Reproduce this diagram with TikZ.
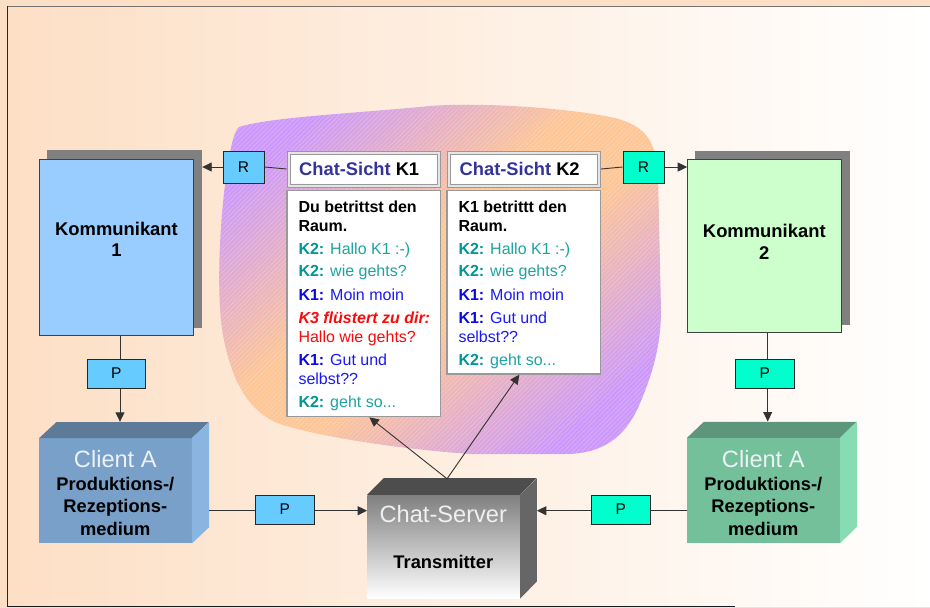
\documentclass[tikz,border=0pt]{standalone}
\usepackage{fontspec}
\setmainfont{Liberation Sans}
\usetikzlibrary{arrows.meta,patterns.meta,calc}
\definecolor{peach}{RGB}{253,223,197}
\definecolor{blobpurple}{RGB}{204,152,250}
\definecolor{bloborange}{RGB}{253,198,150}
\definecolor{kblue}{RGB}{153,204,255}
\definecolor{kgreen}{RGB}{204,255,204}
\definecolor{rblue}{RGB}{102,204,255}
\definecolor{rgreen}{RGB}{0,255,204}
\definecolor{hdblue}{RGB}{51,51,153}
\definecolor{tealA}{RGB}{0,150,150}
\definecolor{tealB}{RGB}{30,163,163}
\definecolor{blueA}{RGB}{10,10,225}
\definecolor{blueB}{RGB}{25,25,250}
\definecolor{redA}{RGB}{250,10,10}
\definecolor{caFront}{RGB}{120,160,200}
\definecolor{caTop}{RGB}{93,122,153}
\definecolor{caSide}{RGB}{138,181,224}
\definecolor{cbFront}{RGB}{115,192,155}
\definecolor{cbTop}{RGB}{93,150,122}
\definecolor{cbSide}{RGB}{135,220,180}
\definecolor{svTop}{RGB}{77,77,77}
\definecolor{svSide}{RGB}{102,102,102}
\definecolor{lightTitle}{RGB}{236,241,246}
\pgfdeclarehorizontalshading{blobshade}{100bp}{color(0bp)=(blobpurple); color(24bp)=(blobpurple); color(45bp)=(bloborange); color(55bp)=(bloborange); color(76bp)=(blobpurple); color(100bp)=(blobpurple)}
\tikzset{
  conn/.style={draw=black!80, line width=0.9pt},
  arr/.style={draw=black!80, line width=0.9pt, -{Triangle[length=9.5pt,width=9pt]}},
  kbox/.style={rectangle, draw=black!75, line width=1pt, inner sep=0pt},
  shadowbox/.style={rectangle, fill=black!50, inner sep=0pt},
  tagbox/.style={rectangle, draw=black!85, line width=1pt, inner sep=0pt, font=\fontsize{15.5}{18}\selectfont},
  hdbox/.style={rectangle, draw=black!40, fill=black!10, line width=1pt, inner sep=0pt},
  hdinner/.style={rectangle, draw=black!40, fill=white, line width=1pt, inner sep=0pt},
  chatbox/.style={rectangle, draw=black!40, fill=white, line width=1.2pt, inner sep=0pt},
  chatline/.style={anchor=base west, inner sep=0pt, font=\fontsize{16}{19}\selectfont},
  hdtext/.style={anchor=base west, inner sep=0pt, font=\bfseries\fontsize{18.3}{21}\selectfont},
  bigtext/.style={anchor=base, inner sep=0pt, font=\bfseries\fontsize{18.4}{21}\selectfont},
  cubetitle/.style={anchor=base, inner sep=0pt, text=lightTitle, font=\fontsize{23.6}{28}\selectfont},
  cubetext/.style={anchor=base, inner sep=0pt, font=\bfseries\fontsize{18.3}{22}\selectfont},
  face/.style={rectangle, inner sep=0pt},
}
\begin{document}
\begin{tikzpicture}[x=1pt,y=-1pt]
\useasboundingbox (0,0) rectangle (930,608);
% background and frame
\fill[peach] (0,0) rectangle (930,608);
\shade[left color=peach, right color=white] (7,6) rectangle (930,606);
\draw[black!55, line width=1.3pt] (7,6.5) -- (930,6.5);
\draw[black!85, line width=1.2pt] (7.5,6) -- (7.5,607);
\draw[black!90, line width=1.2pt] (7,606.5) -- (735,606.5);
% blob
\def\blobpath{(239,127) .. controls (270,117) and (360,113) .. (430,106)
  .. controls (480,102) and (570,108) .. (615,118)
  .. controls (645,126) and (656,140) .. (658,175)
  -- (661,310)
  .. controls (661,350) and (650,380) .. (638,408)
  .. controls (625,435) and (605,454) .. (565,454)
  -- (470,454)
  .. controls (400,449) and (320,437) .. (280,424)
  .. controls (248,412) and (232,380) .. (224,340)
  .. controls (215,300) and (220,210) .. (228,165)
  .. controls (231,145) and (234,132) .. (239,127) -- cycle}
\shade[shading=blobshade, shading angle=-50] \blobpath;
\fill[pattern={Lines[angle=45,distance=3.2pt,line width=0.6pt]}, pattern color=white, opacity=0.25] \blobpath;

% Kommunikant 1
\node[shadowbox, minimum width=155pt, minimum height=178pt] (k1s) at (124.5,239) {};
\node[kbox, fill=kblue, minimum width=154pt, minimum height=176.5pt] (k1) at (116.5,247.25) {};
\node[bigtext] (k1ta) at (116.5,235) {Kommunikant};
\node[bigtext] (k1tb) at (116.5,256) {1};
% Kommunikant 2
\node[shadowbox, minimum width=155pt, minimum height=173.7pt] (k2s) at (772.5,237.85) {};
\node[kbox, fill=kgreen, minimum width=154pt, minimum height=173pt] (k2) at (764.7,245.5) {};
\node[bigtext] (k2ta) at (764.3,237.3) {Kommunikant};
\node[bigtext] (k2tb) at (764.3,259) {2};

% R boxes
\node[tagbox, fill=rblue, minimum width=41pt, minimum height=32pt] (r1) at (243.5,167) {R};
\node[tagbox, fill=rgreen, minimum width=41pt, minimum height=32pt] (r2) at (643.5,167) {R};

% headers
\node[hdbox, minimum width=153.7pt, minimum height=36pt] (hk1) at (363.85,169) {};
\node[hdinner, minimum width=147.7pt, minimum height=30pt] (hk1i) at (hk1.center) {};
\node[hdtext] (hk1t) at (299,175.3) {\textcolor{hdblue}{Chat-Sicht} K1};
\node[hdbox, minimum width=153.7pt, minimum height=36pt] (hk2) at (523.85,169) {};
\node[hdinner, minimum width=147.7pt, minimum height=30pt] (hk2i) at (hk2.center) {};
\node[hdtext] (hk2t) at (459.5,175.3) {\textcolor{hdblue}{Chat-Sicht} K2};

% chat boxes
\node[chatbox, minimum width=153.7pt, minimum height=226pt] (c1) at (363.85,303.7) {};
\node[chatbox, minimum width=153.7pt, minimum height=183.3pt] (c2) at (523.85,282.35) {};

\node[chatline] (a1) at (298.3,212.7) {\textbf{Du betrittst den}};
\node[chatline] (a2) at (298.3,231) {\textbf{Raum.}};
\node[chatline] (a3) at (298.3,254) {\textcolor{tealA}{\textbf{K2:}} \textcolor{tealB}{Hallo K1 :-)}};
\node[chatline] (a4) at (298.3,276.7) {\textcolor{tealA}{\textbf{K2:}} \textcolor{tealB}{wie gehts?}};
\node[chatline] (a5) at (298.3,300) {\textcolor{blueA}{\textbf{K1:}} \textcolor{blueB}{Moin moin}};
\node[chatline] (a6) at (298.3,323.3) {\textcolor{redA}{\textbf{\textit{K3 flüstert zu dir:}}}};
\node[chatline] (a7) at (298.3,342.3) {\textcolor{redA}{Hallo wie gehts?}};
\node[chatline] (a8) at (298.3,365) {\textcolor{blueA}{\textbf{K1:}} \textcolor{blueB}{Gut und}};
\node[chatline] (a9) at (298.3,384) {\textcolor{blueB}{selbst??}};
\node[chatline] (a10) at (298.3,407.7) {\textcolor{tealA}{\textbf{K2:}} \textcolor{tealB}{geht so...}};

\node[chatline] (b1) at (458.3,212.7) {\textbf{K1 betrittt den}};
\node[chatline] (b2) at (458.3,231) {\textbf{Raum.}};
\node[chatline] (b3) at (458.3,254) {\textcolor{tealA}{\textbf{K2:}} \textcolor{tealB}{Hallo K1 :-)}};
\node[chatline] (b4) at (458.3,276.7) {\textcolor{tealA}{\textbf{K2:}} \textcolor{tealB}{wie gehts?}};
\node[chatline] (b5) at (458.3,300) {\textcolor{blueA}{\textbf{K1:}} \textcolor{blueB}{Moin moin}};
\node[chatline] (b6) at (458.3,323.3) {\textcolor{blueA}{\textbf{K1:}} \textcolor{blueB}{Gut und}};
\node[chatline] (b7) at (458.3,342.3) {\textcolor{blueB}{selbst??}};
\node[chatline] (b8) at (458.3,365) {\textcolor{tealA}{\textbf{K2:}} \textcolor{tealB}{geht so...}};

% P boxes
\node[tagbox, fill=rblue, minimum width=58.7pt, minimum height=29pt] (pv1) at (116.35,373.5) {P};
\node[tagbox, fill=rgreen, minimum width=58.3pt, minimum height=29pt] (pv2) at (764.85,373.5) {P};
\node[tagbox, fill=rblue, minimum width=58.3pt, minimum height=29pt] (ph1) at (284.85,509.5) {P};
\node[tagbox, fill=rgreen, minimum width=58.3pt, minimum height=29pt] (ph2) at (620.85,509.5) {P};

% Client A (left cube)
\node[face, fill=caFront, minimum width=152.4pt, minimum height=105pt] (ca) at (115.5,490.8) {};
\fill[caTop] (ca.north west) -- ++(17.3,-16) -- ++(152.4,0) -- (ca.north east) -- cycle;
\fill[caSide] (ca.north east) -- ++(17.3,-16) -- ++(0,105) -- (ca.south east) -- cycle;
\node[cubetitle] (cat1) at (115.3,467.3) {Client A};
\node[cubetext] (cat2) at (115.3,490.7) {Produktions-/};
\node[cubetext] (cat3) at (115.3,512.5) {Rezeptions-};
\node[cubetext] (cat4) at (115.3,535.7) {medium};
% Client A (right cube)
\node[face, fill=cbFront, minimum width=152.7pt, minimum height=105pt] (cb) at (763.65,490.5) {};
\fill[cbTop] (cb.north west) -- ++(16.7,-16) -- ++(152.7,0) -- (cb.north east) -- cycle;
\fill[cbSide] (cb.north east) -- ++(16.7,-16) -- ++(0,105) -- (cb.south east) -- cycle;
\node[cubetitle] (cbt1) at (763.3,467.3) {Client A};
\node[cubetext] (cbt2) at (763.3,490.7) {Produktions-/};
\node[cubetext] (cbt3) at (763.3,512.5) {Rezeptions-};
\node[cubetext] (cbt4) at (763.3,535.7) {medium};
% Chat-Server
\node[face, top color=black!50, bottom color=white, minimum width=152.7pt, minimum height=103.3pt] (sv) at (443.65,546.65) {};
\fill[svTop] (sv.north west) -- ++(16.7,-16.7) -- ++(152.7,0) -- (sv.north east) -- cycle;
\fill[svSide] (sv.north east) -- ++(16.7,-16.7) -- ++(0,103.3) -- (sv.south east) -- cycle;
\node[cubetitle, text=white!94!black] (svt1) at (443.3,522.7) {Chat-Server};
\node[cubetext] (svt2) at (443.3,568.3) {Transmitter};

% coordinates for connector ends
\coordinate (xl) at (120,0);
\coordinate (xr) at (767.7,0);
\coordinate (catopl) at ($(ca.north -| xl)+(0,-16.3)$);
\coordinate (cbtopr) at ($(cb.north -| xr)+(0,-16.3)$);
\coordinate (caside) at ($(ca.east)+(17.3,0)$);
\coordinate (svside) at ($(sv.east)+(16.7,0)$);
\coordinate (svtop) at ($(sv.north)+(3.4,-16)$);
\coordinate (c1tip) at ($(c1.south)+(5.5,0)$);
\coordinate (c2tip) at ($(c2.south)+(-4.5,0)$);

% connectors
\draw[conn] (r1.east) -- (hk1.west);
\draw[arr] (r1.west) -- (r1.west -| k1s.east);
\draw[conn] (hk2.east) -- (r2.west);
\draw[arr] (r2.east) -- (r2.east -| k2.west);
\draw[conn] (k1.south -| xl) -- (pv1.north -| xl);
\draw[arr] (pv1.south -| xl) -- (catopl);
\draw[conn] (k2.south -| xr) -- (pv2.north -| xr);
\draw[arr] (pv2.south -| xr) -- (cbtopr);
\draw[conn] ([yshift=-1.2pt]caside |- ph1.west) -- ([yshift=-1.2pt]ph1.west);
\draw[arr] ([yshift=-1.2pt]ph1.east) -- ([yshift=-1.2pt]ph1.east -| sv.west);
\draw[conn] ([yshift=-1.2pt]cb.west |- ph2.east) -- ([yshift=-1.2pt]ph2.east);
\draw[arr] ([yshift=-1.2pt]ph2.west) -- ([yshift=-1.2pt]ph2.west -| svside);
\draw[arr] (svtop) -- (c1tip);
\draw[arr] (svtop) -- (c2tip);
\end{tikzpicture}
\end{document}
